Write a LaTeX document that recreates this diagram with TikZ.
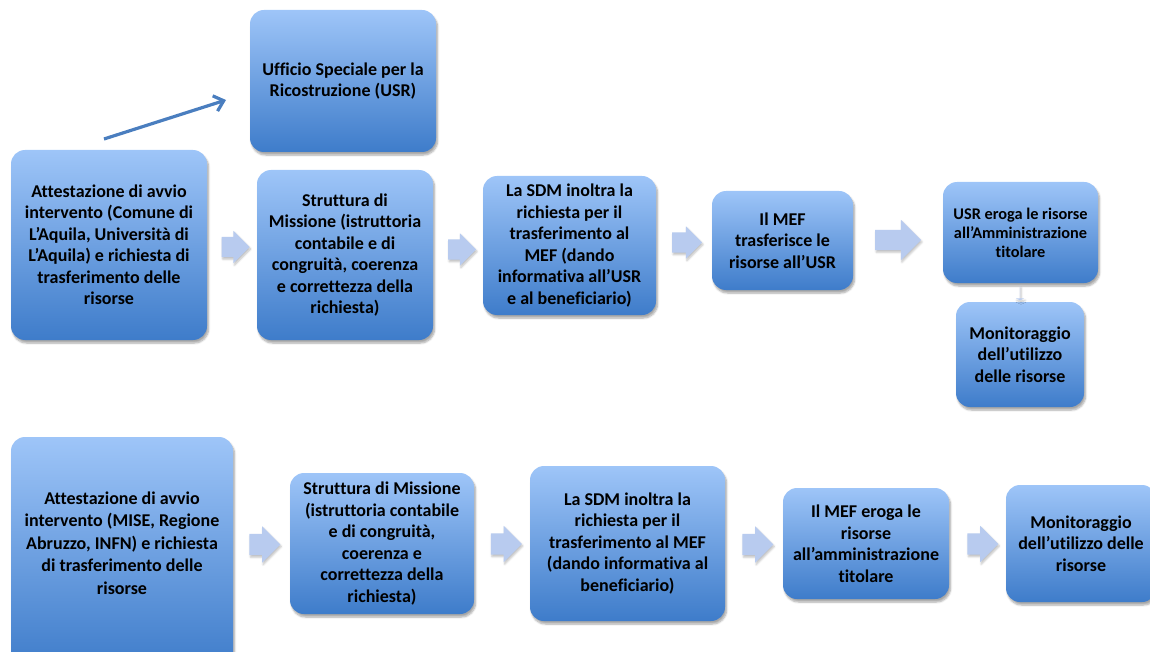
\documentclass[tikz,border=0pt]{standalone}
\usepackage{fontspec}
\setmainfont{Carlito}[Ligatures=NoCommon]
\usetikzlibrary{shapes.arrows,shadows.blur,arrows.meta}
\definecolor{boxtop}{HTML}{9EC5F8}
\definecolor{boxbot}{HTML}{3E7CCA}
\definecolor{arrfill}{HTML}{B8CBEF}
\definecolor{thinarr}{HTML}{4A7EBF}
\tikzset{
  box/.style={rounded corners=14pt, top color=boxtop, bottom color=boxbot, draw=none,
    blur shadow={shadow xshift=1.5pt, shadow yshift=-3pt, shadow blur steps=6, shadow opacity=35},
    align=center, font=\bfseries\fontsize{18}{21.5}\selectfont, text=black, inner sep=0pt},
  blk/.style={single arrow, fill=arrfill, draw=none, inner sep=0pt, anchor=center,
    blur shadow={shadow xshift=1pt, shadow yshift=-2pt, shadow blur steps=4, shadow opacity=25}},
  blkA/.style={blk, minimum height=28pt, inner ysep=10pt, single arrow head extend=6pt},
  blkB/.style={blk, minimum height=31pt, inner ysep=10.5pt, single arrow head extend=7.5pt},
}
\begin{document}
\begin{tikzpicture}[x=1pt,y=-1pt]
\useasboundingbox (0,0) rectangle (1150,652);
% top row
\node[box, minimum width=186pt, minimum height=142pt] (usr) at (343,81) {Ufficio Speciale per la\\Ricostruzione (USR)};
\node[box, minimum width=196pt, minimum height=190pt] (a1) at (109,245) {Attestazione di avvio\\intervento (Comune di\\L’Aquila, Università di\\L’Aquila) e richiesta di\\trasferimento delle\\risorse};
\node[box, minimum width=176pt, minimum height=170pt] (s1) at (345,255) {Struttura di\\Missione (istruttoria\\contabile e di\\congruità, coerenza\\e correttezza della\\richiesta)};
\node[box, minimum width=173pt, minimum height=139pt] (sdm1) at (569.5,245.5) {La SDM inoltra la\\richiesta per il\\trasferimento al\\MEF (dando\\informativa all’USR\\e al beneficiario)};
\node[box, minimum width=141pt, minimum height=99pt] (mef1) at (782.5,240.5) {Il MEF\\trasferisce le\\risorse all’USR};
\node[box, minimum width=155pt, minimum height=101pt, font=\bfseries\fontsize{16.3}{19}\selectfont] (ero1) at (1020.5,232.5) {USR eroga le risorse\\all’Amministrazione\\titolare};
\node[box, minimum width=128pt, minimum height=105pt] (mon1) at (1020,354.5) {Monitoraggio\\dell’utilizzo\\delle risorse};
% bottom row
\node[box, minimum width=222pt, minimum height=232pt] (a2) at (122,553) {};
\node[align=center, font=\bfseries\fontsize{18}{22.5}\selectfont, inner sep=0pt] (a2t) at (122,543) {Attestazione di avvio\\intervento (MISE, Regione\\Abruzzo, INFN) e richiesta\\di trasferimento delle\\risorse};
\node[box, minimum width=184pt, minimum height=141pt] (s2) at (382,543.5) {Struttura di Missione\\(istruttoria contabile\\e di congruità,\\coerenza e\\correttezza della\\richiesta)};
\node[box, minimum width=195pt, minimum height=155pt] (sdm2) at (627.5,543.5) {La SDM inoltra la\\richiesta per il\\trasferimento al MEF\\(dando informativa al\\beneficiario)};
\node[box, minimum width=166pt, minimum height=111pt] (mef2) at (866,543.5) {Il MEF eroga le\\risorse\\all’amministrazione\\titolare};
\node[box, minimum width=150pt, minimum height=117pt] (mon2) at (1081,543.5) {Monitoraggio\\dell’utilizzo delle\\risorse};
% block arrows top
\node[blkA] (ar1) at (230.5,247) {};
\node[blkA] (ar2) at (457,249.5) {};
\node[blkA, minimum height=30pt] (ar3) at (682,242.5) {};
\node[blk, minimum height=46pt, inner ysep=10pt, single arrow head extend=10pt] (ar4) at (893,240) {};
\node[blk, minimum height=11pt, inner ysep=7pt, single arrow head extend=4pt, single arrow tip angle=130, shape border rotate=270] (ar5) at (1020,293) {};
% block arrows bottom
\node[blkB] (br1) at (259.5,544.5) {};
\node[blkB] (br2) at (501,544) {};
\node[blkB] (br3) at (752.5,544.5) {};
\node[blkB] (br4) at (977.5,544) {};
% thin arrow
\coordinate (t1) at (104,139);
\coordinate (t2) at (226,100);
\draw[thinarr, line width=3.2pt, -{Straight Barb[length=9pt,width=16pt,line width=3.2pt]}] (t1) -- (t2);
\end{tikzpicture}
\end{document}
